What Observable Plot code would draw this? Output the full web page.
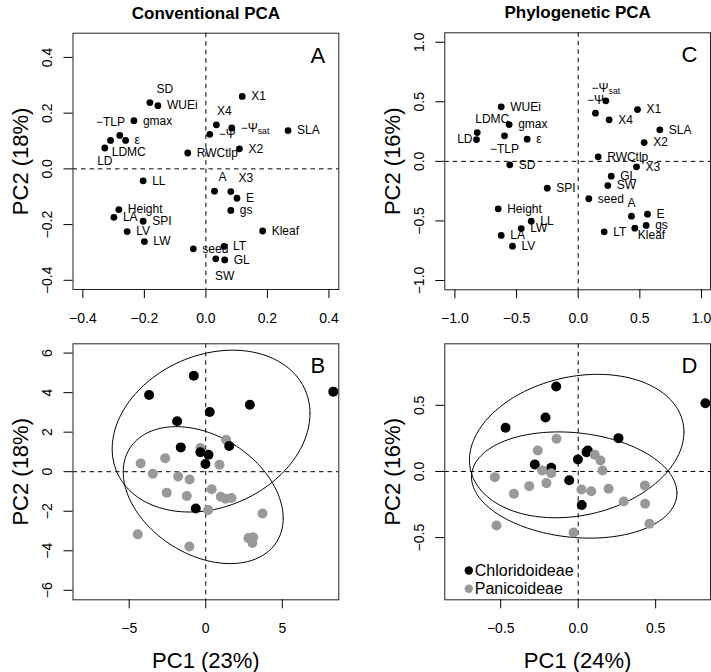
<!DOCTYPE html>
<html><head><meta charset="utf-8">
<script src="https://cdn.jsdelivr.net/npm/d3@7"></script>
<script src="https://cdn.jsdelivr.net/npm/@observablehq/plot@0.6"></script>
<style>
body{margin:0;background:#fff;}
#fig{position:relative;width:711px;height:672px;overflow:hidden;background:#fff;}
#fig svg{position:absolute;}
</style></head><body><div id="fig"></div>
<script>
// ---------- data ----------
const traits = ["X1","SD","WUEi","gmax","X4","−Ψsat","−Ψ","SLA","LDMC","−TLP","ε","LD","RWCtlp","X2","LL","A","X3","E","gs","Height","LA","SPI","LV","LW","Kleaf","seed","LT","GL","SW"];
// Conventional PCA loadings (panel A)
const convX = [0.118,-0.182,-0.156,-0.234,0.034,0.084,0.0125,0.267,-0.280,-0.310,-0.261,-0.3285,-0.059,0.109,-0.204,0.028,0.081,0.101,0.081,-0.283,-0.299,-0.204,-0.256,-0.200,0.1845,-0.041,0.059,0.061,0.032];
const convY = [0.260,0.238,0.227,0.173,0.158,0.147,0.124,0.1375,0.120,0.102,0.102,0.075,0.057,0.072,-0.043,-0.080,-0.0815,-0.1055,-0.149,-0.146,-0.174,-0.188,-0.225,-0.261,-0.223,-0.287,-0.278,-0.327,-0.323];
const convPos = ["r","TR","r","r","tr","r","r","r","br","T","r","b","r","r","r","tr","TR","r","r","r","r","r","r","r","r","r","r","r","br"];
// Phylogenetic PCA loadings (panel C)
const phyloX = [0.481,-0.555,-0.6245,-0.560,0.251,0.224,0.140,0.662,-0.819,-0.598,-0.414,-0.825,0.162,0.535,-0.381,0.432,0.473,0.562,0.551,-0.649,-0.6245,-0.251,-0.533,-0.462,0.459,0.086,0.211,0.268,0.240];
const phyloY = [0.435,-0.029,0.458,0.309,0.349,0.508,0.404,0.265,0.242,0.214,0.186,0.183,0.038,0.158,-0.502,-0.460,-0.046,-0.443,-0.538,-0.398,-0.622,-0.225,-0.712,-0.564,-0.561,-0.314,-0.5915,-0.1245,-0.203];
const phyloPos = ["r","r","r","r","r","t","t","r","TR","b","r","l","r","r","r","t","r","r","r","r","r","r","r","r","rb","r","r","r","r"];
// Species scores
const groups = ["Chloridoideae","Panicoideae"];
const chlConvX = [-0.78,-3.70,8.33,2.88,0.26,-1.87,1.53,-1.63,-0.35,0.18,-0.02,-0.65];
const chlConvY = [4.85,3.88,4.05,3.39,3.02,2.55,1.30,1.23,0.98,0.86,0.39,-1.86];
const panConvX = [1.33,-0.35,-2.65,-4.25,0.90,-3.46,-1.80,-1.05,0.39,-2.55,-1.24,0.98,1.29,1.68,0.16,3.71,-4.44,2.79,3.10,3.05,-1.07];
const panConvY = [1.62,1.20,0.68,0.42,0.35,-0.10,-0.24,-0.39,-0.89,-1.06,-1.23,-1.27,-1.37,-1.33,-1.94,-2.11,-3.17,-3.36,-3.32,-3.61,-3.78];
const chlPhyX = [-0.142,-0.469,-0.211,0.260,0.054,-0.002,-0.280,-0.174,-0.058,0.023,0.821,0.062];
const chlPhyY = [0.642,0.330,0.408,0.252,0.146,0.091,0.053,0.028,-0.066,-0.254,0.516,0.159];
const panPhyX = [-0.140,-0.261,0.107,0.144,-0.232,-0.174,0.157,-0.538,-0.316,-0.205,0.021,0.084,0.196,0.430,-0.415,0.294,0.432,-0.527,-0.030,0.460];
const panPhyY = [0.247,0.159,0.126,0.083,0.008,-0.013,0.008,-0.043,-0.111,-0.088,-0.136,-0.149,-0.131,-0.106,-0.169,-0.227,-0.244,-0.408,-0.461,-0.395];
// axis ticks & titles
const ticksA = [-0.4,-0.2,0,0.2,0.4];
const ticksC = [-1,-0.5,0,0.5,1];
const ticksBx = [-5,0,5];
const ticksBy = [-6,-4,-2,0,2,4,6];
const ticksD = [-0.5,0,0.5];
const colTitles = ["Conventional PCA","Phylogenetic PCA"];
const xTitles = ["PC1 (23%)","PC1 (24%)"];
const yTitles = ["PC2 (18%)","PC2 (16%)"];

// ---------- helpers ----------
const FONT = '"Liberation Sans", Arial, Helvetica, sans-serif';
const fig = document.getElementById("fig");
const C90 = Math.sqrt(4.60517); // 90% normal ellipse
const offsets = {
  r:  {dx: 9,  dy: 0,   textAnchor: "start"},
  l:  {dx: -4, dy: 0,   textAnchor: "end"},
  t:  {dx: 0,  dy: -13, textAnchor: "middle"},
  T:  {dx: 0,  dy: -18, textAnchor: "middle"},
  tr: {dx: 8,  dy: -14, textAnchor: "middle"},
  TR: {dx: 15, dy: -13, textAnchor: "middle"},
  b:  {dx: 0,  dy: 13,  textAnchor: "middle"},
  br: {dx: 9,  dy: 17,  textAnchor: "middle"},
  rb: {dx: 3,  dy: 7,   textAnchor: "start"}
};
function loadingMarks(xs, ys, pos) {
  const rows = traits.map((t, i) => ({t, x: xs[i], y: ys[i], p: pos[i]}));
  const marks = [Plot.dot(rows, {x: "x", y: "y", r: 3.4, fill: "black"})];
  for (const [k, o] of Object.entries(offsets)) {
    const sub = rows.filter(d => d.p === k);
    if (sub.length) marks.push(Plot.text(sub, {x: "x", y: "y", text: "t", fontSize: 12, fill: "black", lineAnchor: "middle", ...o}));
  }
  return marks;
}
function ellipse(xs, ys, n = 160) {
  const mx = d3.mean(xs), my = d3.mean(ys);
  const sxx = d3.variance(xs), syy = d3.variance(ys);
  const sxy = d3.sum(xs, (x, i) => (x - mx) * (ys[i] - my)) / (xs.length - 1);
  const l11 = Math.sqrt(sxx), l21 = sxy / l11, l22 = Math.sqrt(syy - l21 * l21);
  return d3.range(n + 1).map(i => {
    const t = 2 * Math.PI * i / n, a = Math.cos(t), b = Math.sin(t);
    return {x: mx + C90 * l11 * a, y: my + C90 * (l21 * a + l22 * b)};
  });
}
function pts(xs, ys) { return xs.map((x, i) => ({x, y: ys[i]})); }
function panel(cfg) {
  const svg = Plot.plot({
    width: cfg.w, height: cfg.h,
    marginLeft: cfg.ml, marginRight: cfg.mr, marginTop: cfg.mt, marginBottom: cfg.mb,
    x: {domain: cfg.xd}, y: {domain: cfg.yd},
    style: {fontFamily: FONT, fontSize: "14px", color: "black", background: "transparent", overflow: "visible"},
    marks: [
      Plot.ruleX([0], {stroke: "black", strokeWidth: 1, strokeDasharray: "4.5,4"}),
      Plot.ruleY([0], {stroke: "black", strokeWidth: 1, strokeDasharray: "4.5,4"}),
      ...cfg.marks,
      Plot.frame({stroke: "#222", strokeWidth: 1}),
      Plot.axisX({ticks: cfg.xt, tickFormat: cfg.fmt, tickSize: 9, tickPadding: 14.5, fontSize: 14, label: null, anchor: "bottom"}),
      Plot.axisY({ticks: cfg.yt, tickFormat: cfg.fmt, tickSize: 9, tickPadding: 12, tickRotate: -90, fontSize: 14, label: null, anchor: "left"}),
      Plot.text([cfg.letter], {text: d => d, frameAnchor: "top-right", dx: -21, dy: 14, lineAnchor: "top", textAnchor: "middle", fontSize: 22}),
      Plot.text([cfg.ylab], {text: d => d, frameAnchor: "left", dx: -45, rotate: -90, lineAnchor: "bottom", textAnchor: "middle", fontSize: 22}),
      ...(cfg.title ? [Plot.text([cfg.title], {text: d => d, frameAnchor: "top", dy: -14.5, lineAnchor: "bottom", textAnchor: "middle", fontSize: 17, fontWeight: "bold"})] : []),
      ...(cfg.xlab ? [Plot.text([cfg.xlab], {text: d => d, frameAnchor: "bottom", dy: 68.2, lineAnchor: "bottom", textAnchor: "middle", fontSize: 22})] : [])
    ]
  });
  svg.style.left = cfg.left + "px";
  svg.style.top = cfg.top + "px";
  // subscript for Psi_sat
  svg.querySelectorAll("text").forEach(t => {
    if (t.textContent === "−Ψsat") {
      t.textContent = "−Ψ";
      const ts = document.createElementNS("http://www.w3.org/2000/svg", "tspan");
      ts.setAttribute("font-size", "0.72em");
      ts.setAttribute("dy", "0.3em");
      ts.textContent = "sat";
      t.appendChild(ts);
    }
  });
  fig.appendChild(svg);
}
const f1 = d3.format(".1f"), f0 = d3.format("d");

// Panel A
panel({left: 0, top: 0, w: 360, h: 330, ml: 72.5, mr: 21.7, mt: 32.7, mb: 41,
  xd: [-0.432, 0.432], yd: [-0.433, 0.487], xt: ticksA, yt: ticksA, fmt: f1,
  letter: "A", ylab: yTitles[0], title: colTitles[0],
  marks: loadingMarks(convX, convY, convPos)});
// Panel C
panel({left: 360, top: 0, w: 351, h: 330, ml: 84.3, mr: 1, mt: 32.3, mb: 40.7,
  xd: [-1.082, 1.073], yd: [-1.078, 1.079], xt: ticksC, yt: ticksC, fmt: f1,
  letter: "C", ylab: yTitles[1], title: colTitles[1],
  marks: loadingMarks(phyloX, phyloY, phyloPos)});
// Panel B
panel({left: 0, top: 330, w: 360, h: 342, ml: 72.5, mr: 21.7, mt: 13.3, mb: 72.7,
  xd: [-8.67, 8.69], yd: [-6.48, 6.47], xt: ticksBx, yt: ticksBy, fmt: f0,
  letter: "B", ylab: yTitles[0], xlab: xTitles[0],
  marks: [
    Plot.line(ellipse(chlConvX, chlConvY), {x: "x", y: "y", stroke: "black", strokeWidth: 1}),
    Plot.line(ellipse(panConvX, panConvY), {x: "x", y: "y", stroke: "black", strokeWidth: 1}),
    Plot.dot(pts(panConvX, panConvY), {x: "x", y: "y", r: 5, fill: "#999999"}),
    Plot.dot(pts(chlConvX, chlConvY), {x: "x", y: "y", r: 5, fill: "black"})
  ]});
// Panel D
panel({left: 360, top: 330, w: 351, h: 342, ml: 84.3, mr: 1, mt: 13.3, mb: 72.7,
  xd: [-0.861, 0.854], yd: [-0.97, 0.965], xt: ticksD, yt: ticksD, fmt: f1,
  letter: "D", ylab: yTitles[1], xlab: xTitles[1],
  marks: [
    Plot.line(ellipse(chlPhyX, chlPhyY), {x: "x", y: "y", stroke: "black", strokeWidth: 1}),
    Plot.line(ellipse(panPhyX, panPhyY), {x: "x", y: "y", stroke: "black", strokeWidth: 1}),
    Plot.dot(pts(chlPhyX, chlPhyY), {x: "x", y: "y", r: 5, fill: "black"}),
    Plot.dot(pts(panPhyX, panPhyY), {x: "x", y: "y", r: 5, fill: "#999999"}),
    Plot.dot([groups[0]], {frameAnchor: "bottom-left", dx: 24, dy: -29.3, r: 4.2, fill: "black"}),
    Plot.dot([groups[1]], {frameAnchor: "bottom-left", dx: 24, dy: -11, r: 4.2, fill: "#999999"}),
    Plot.text([groups[0]], {text: d => d, frameAnchor: "bottom-left", dx: 30, dy: -29.3, textAnchor: "start", lineAnchor: "middle", fontSize: 16}),
    Plot.text([groups[1]], {text: d => d, frameAnchor: "bottom-left", dx: 30, dy: -11, textAnchor: "start", lineAnchor: "middle", fontSize: 16})
  ]});
</script></body></html>
